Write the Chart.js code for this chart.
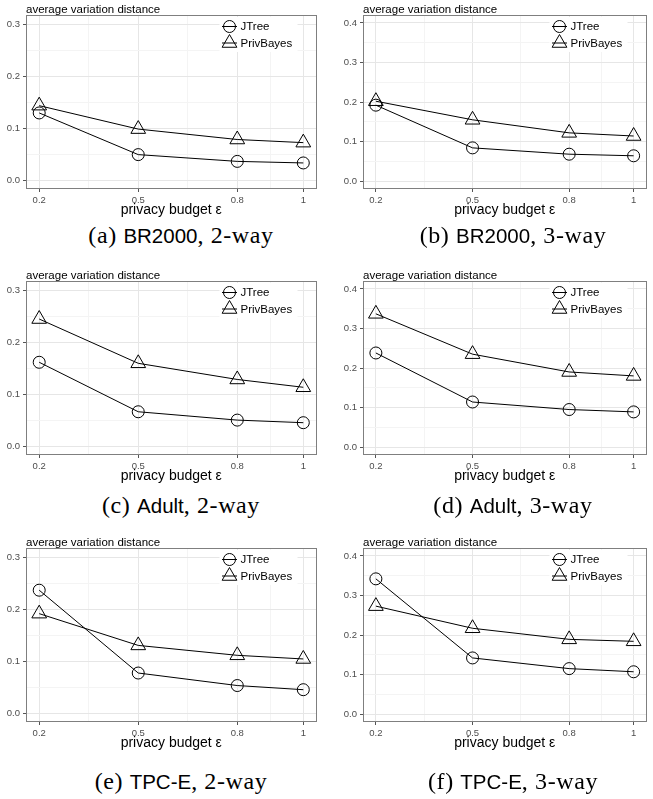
<!DOCTYPE html>
<html>
<head>
<meta charset="utf-8">
<script src="https://cdn.jsdelivr.net/npm/chart.js@4"></script>
<style>
    body { margin: 0; width: 653px; height: 799px; overflow: hidden; background: #fff; position: relative; }
    canvas { position: absolute; }
    .cap { position: absolute; width: 300px; text-align: center; white-space: nowrap;
           font-family: "Liberation Serif", "DejaVu Serif", serif; font-size: 24px; line-height: 20px;
           letter-spacing: 0.6px; color: #000; }
    .cap .ds { font-family: "Liberation Sans", Arial, sans-serif; font-size: 20.5px; letter-spacing: 0; }
</style>
</head>
<body>
<script>
// x positions and tick labels
const budgets = [0.2, 0.5, 0.8, 1];
const xTicks = [0.2, 0.5, 0.8, 1];
const xMinor = [0.35, 0.65, 0.9];
const yTicks2 = [0, 0.1, 0.2, 0.3];
const yMinor2 = [0.05, 0.15, 0.25];
const yTicks3 = [0, 0.1, 0.2, 0.3, 0.4];
const yMinor3 = [0.05, 0.15, 0.25, 0.35];

const seriesNames = ["JTree", "PrivBayes"];

// average variation distance
const jtreeBR2000_2 = [0.130, 0.050, 0.037, 0.034];
const privBR2000_2 = [0.144, 0.099, 0.079, 0.073];
const jtreeBR2000_3 = [0.192, 0.084, 0.068, 0.064];
const privBR2000_3 = [0.202, 0.155, 0.122, 0.114];
const jtreeAdult_2 = [0.162, 0.067, 0.051, 0.046];
const privAdult_2 = [0.245, 0.160, 0.129, 0.114];
const jtreeAdult_3 = [0.238, 0.114, 0.095, 0.089];
const privAdult_3 = [0.337, 0.235, 0.190, 0.180];
const jtreeTPCE_2 = [0.237, 0.078, 0.054, 0.046];
const privTPCE_2 = [0.192, 0.131, 0.112, 0.105];
const jtreeTPCE_3 = [0.342, 0.142, 0.115, 0.107];
const privTPCE_3 = [0.273, 0.217, 0.189, 0.184];

const cols = [
    { left: 0, w: 326, yw: 26, padR: 6, capX: 181 },
    { left: 325, w: 331, yw: 38, padR: 0, capX: 513 }
];
const rowTops = [0, 266, 533];
const capTops = [225, 495, 771];

const panels = [
    { letter: "a", name: "BR2000", way: 2, col: 0, row: 0, jtree: jtreeBR2000_2, priv: privBR2000_2 },
    { letter: "b", name: "BR2000", way: 3, col: 1, row: 0, jtree: jtreeBR2000_3, priv: privBR2000_3 },
    { letter: "c", name: "Adult", way: 2, col: 0, row: 1, jtree: jtreeAdult_2, priv: privAdult_2 },
    { letter: "d", name: "Adult", way: 3, col: 1, row: 1, jtree: jtreeAdult_3, priv: privAdult_3 },
    { letter: "e", name: "TPC-E", way: 2, col: 0, row: 2, jtree: jtreeTPCE_2, priv: privTPCE_2 },
    { letter: "f", name: "TPC-E", way: 3, col: 1, row: 2, jtree: jtreeTPCE_3, priv: privTPCE_3 }
];

Chart.defaults.font.family = "'Liberation Sans', Arial, sans-serif";

const MAJOR = "#e6e6e6";
const MINOR = "#f4f4f4";
const BOX = "#7f7f7f";

function markerPath(ctx, style, x, y, r) {
    ctx.beginPath();
    if (style === "circle") {
        ctx.arc(x, y, r, 0, Math.PI * 2);
    } else {
        for (let k = 0; k < 3; k++) {
            const a = k * 2 * Math.PI / 3;
            const px = x + Math.sin(a) * r, py = y - Math.cos(a) * r;
            if (k === 0) ctx.moveTo(px, py); else ctx.lineTo(px, py);
        }
        ctx.closePath();
    }
}

const decor = {
    id: "decor",
    beforeDatasetsDraw(chart) {
        const { ctx, chartArea: a } = chart;
        ctx.save();
        ctx.strokeStyle = BOX;
        ctx.lineWidth = 1;
        ctx.strokeRect(Math.round(a.left) + 0.5, Math.round(a.top) + 0.5,
            Math.round(a.right - a.left) - 1, Math.round(a.bottom - a.top) - 1);
        ctx.restore();
    },
    afterDraw(chart) {
        const { ctx, chartArea: a } = chart;
        ctx.save();
        // y title above the panel
        ctx.fillStyle = "#000";
        ctx.font = "11.5px 'Liberation Sans', Arial, sans-serif";
        ctx.textBaseline = "alphabetic";
        ctx.textAlign = "left";
        ctx.fillText("average variation distance", a.left, a.top - 2);

        // legend inside top right
        const cx = a.right - 87;
        ctx.fillStyle = "#fff";
        ctx.fillRect(cx - 10, a.top + 2, 78, 35);
        chart.data.datasets.forEach((ds, i) => {
            const cy = a.top + 11.5 + i * 16.5;
            ctx.strokeStyle = "#000";
            ctx.lineWidth = 1;
            ctx.beginPath();
            ctx.moveTo(cx - 7.5, cy);
            ctx.lineTo(cx + 7.5, cy);
            ctx.stroke();
            markerPath(ctx, ds.pointStyle, cx, cy, ds.pointRadius);
            ctx.stroke();
            ctx.fillStyle = "#000";
            ctx.textBaseline = "middle";
            ctx.fillText(ds.label, cx + 11, cy + 0.5);
        });
        ctx.restore();
    }
};

function makePanel(p) {
    const col = cols[p.col];
    const canvas = document.createElement("canvas");
    canvas.width = col.w;
    canvas.height = 219;
    canvas.style.left = col.left + "px";
    canvas.style.top = rowTops[p.row] + "px";
    document.body.appendChild(canvas);

    const yMajor = p.way === 2 ? yTicks2 : yTicks3;
    const yMin = p.way === 2 ? yMinor2 : yMinor3;
    const yRange = p.way === 2 ? [-0.016, 0.318] : [-0.02, 0.42];

    const gridColor = minor => c => (c.tick && minor.includes(c.tick.value)) ? MINOR : MAJOR;
    const tickColor = minor => c => (c.tick && minor.includes(c.tick.value)) ? "rgba(0,0,0,0)" : "#555";

    new Chart(canvas, {
        type: "line",
        data: {
            datasets: [
                {
                    label: seriesNames[0],
                    data: budgets.map((b, i) => ({ x: b, y: p.jtree[i] })),
                    pointStyle: "circle", pointRadius: 6
                },
                {
                    label: seriesNames[1],
                    data: budgets.map((b, i) => ({ x: b, y: p.priv[i] })),
                    pointStyle: "triangle", pointRadius: 8.5
                }
            ].map(d => Object.assign(d, {
                borderColor: "#000", borderWidth: 1, tension: 0, fill: false,
                pointBorderColor: "#000", pointBorderWidth: 1,
                pointBackgroundColor: "rgba(0,0,0,0)"
            }))
        },
        options: {
            responsive: false,
            animation: false,
            events: [],
            layout: { padding: { top: 15, right: col.padR, bottom: 0, left: 0 } },
            plugins: { legend: { display: false }, tooltip: { enabled: false } },
            scales: {
                x: {
                    type: "linear", min: 0.16, max: 1.04,
                    afterBuildTicks: s => { s.ticks = xTicks.concat(xMinor).sort((m, n) => m - n).map(v => ({ value: v })); },
                    afterFit: s => { s.height = 30; },
                    ticks: {
                        autoSkip: false, maxRotation: 0, padding: 3, color: "#4d4d4d",
                        font: { size: 9.5 },
                        callback: v => xTicks.includes(v) ? String(v) : ""
                    },
                    grid: { color: gridColor(xMinor), tickColor: tickColor(xMinor), tickLength: 3, lineWidth: 1 },
                    border: { display: false },
                    title: { display: true, text: "privacy budget ε", color: "#000", font: { size: 14 }, padding: 0 }
                },
                y: {
                    type: "linear", min: yRange[0], max: yRange[1],
                    afterBuildTicks: s => { s.ticks = yMajor.concat(yMin).sort((m, n) => m - n).map(v => ({ value: v })); },
                    afterFit: s => { s.width = col.yw; },
                    ticks: {
                        autoSkip: false, padding: 3, color: "#4d4d4d",
                        font: { size: 9.5 },
                        callback: v => yMajor.includes(v) ? v.toFixed(1) : ""
                    },
                    grid: { color: gridColor(yMin), tickColor: tickColor(yMin), tickLength: 3, lineWidth: 1 },
                    border: { display: false }
                }
            }
        },
        plugins: [decor]
    });

    const cap = document.createElement("div");
    cap.className = "cap";
    cap.style.left = (col.capX - 150) + "px";
    cap.style.top = capTops[p.row] + "px";
    const ds = document.createElement("span");
    ds.className = "ds";
    ds.textContent = p.name;
    cap.append("(" + p.letter + ") ", ds, ", " + p.way + "-way");
    document.body.appendChild(cap);
}

panels.forEach(makePanel);
</script>
</body>
</html>
